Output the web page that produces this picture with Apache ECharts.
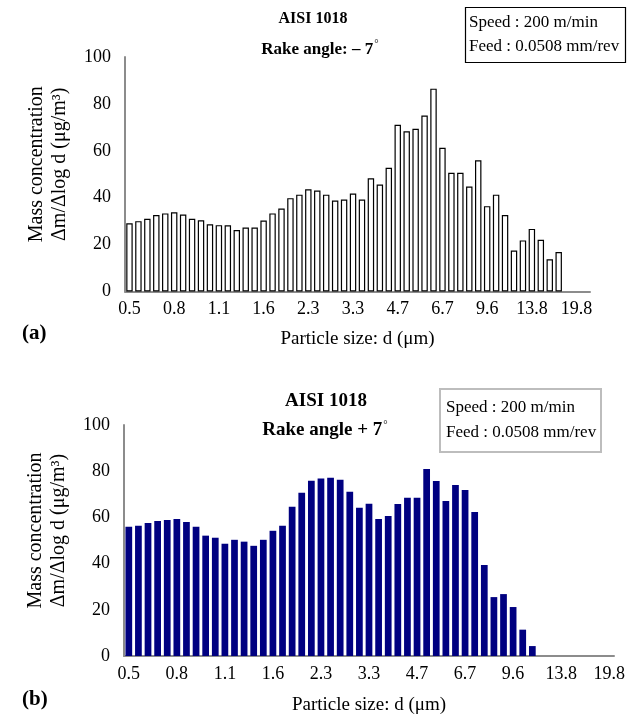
<!DOCTYPE html>
<html>
<head>
<meta charset="utf-8">
<script src="https://cdn.jsdelivr.net/npm/echarts@6/dist/echarts.min.js"></script>
<style>
  html, body { margin: 0; padding: 0; background: #fff; }
  #chart { width: 638px; height: 717px; }
</style>
</head>
<body>
<div id="chart"></div>
<script>
// APS channel midpoints, um
const sizes = [0.542, 0.583, 0.626, 0.673, 0.723, 0.777, 0.835, 0.898, 0.965, 1.037,
  1.114, 1.197, 1.286, 1.382, 1.486, 1.596, 1.715, 1.843, 1.981, 2.129,
  2.288, 2.458, 2.642, 2.839, 3.051, 3.278, 3.523, 3.786, 4.068, 4.371,
  4.698, 5.048, 5.425, 5.829, 6.264, 6.732, 7.234, 7.774, 8.354, 8.977,
  9.647, 10.37, 11.14, 11.97, 12.86, 13.82, 14.86, 15.96, 17.15, 18.43,
  19.81, 21.29];

// (a) rake angle -7
const negRake = [29.1, 30.0, 31.0, 32.6, 33.3, 33.8, 32.8, 31.0, 30.4, 28.7,
  28.3, 28.2, 26.2, 27.3, 27.3, 30.3, 33.3, 35.4, 39.8, 41.3,
  43.6, 43.1, 41.3, 38.8, 39.2, 41.8, 39.2, 48.3, 45.6, 52.8,
  71.1, 68.3, 69.4, 75.0, 86.5, 61.3, 50.6, 50.6, 44.8, 56.0,
  36.4, 41.3, 32.6, 17.5, 21.8, 26.7, 22.1, 13.7, 16.8, null,
  null, null];

// (b) rake angle +7
const posRake = [56.0, 56.4, 57.6, 58.4, 58.9, 59.3, 58.0, 56.0, 52.1, 51.2,
  48.6, 50.3, 49.5, 47.7, 50.3, 54.2, 56.4, 64.6, 70.7, 75.9,
  76.8, 77.2, 76.3, 71.1, 64.2, 65.9, 59.3, 60.6, 65.8, 68.5,
  68.5, 81.0, 75.8, 67.1, 74.0, 71.9, 62.3, 39.4, 25.5, 26.8,
  21.2, 11.4, 4.3, null, null, null, null, null, null, null,
  null];

const catsA = sizes.map(String);
const catsB = sizes.slice(0, posRake.length).map(String);

const FONT = 'Liberation Serif';
const yName = 'Mass concentration\nΔm/Δlog d (μg/m³)';
const xName = 'Particle size: d (μm)';

const chart = echarts.init(document.getElementById('chart'));

const xAxisBase = (idx, cats, gap) => ({
  type: 'category',
  gridIndex: idx,
  data: cats,
  axisTick: { show: false },
  axisLine: { lineStyle: { color: '#8c8c8c', width: 2 } },
  axisLabel: {
    interval: 4,
    margin: 9,
    color: '#000',
    fontFamily: FONT,
    fontSize: 18,
    formatter: (v) => Number(v).toFixed(1)
  },
  name: xName,
  nameLocation: 'middle',
  nameGap: gap,
  nameTextStyle: { color: '#000', fontFamily: FONT, fontSize: 19 }
});

const yAxisBase = (idx) => ({
  type: 'value',
  gridIndex: idx,
  min: 0,
  max: 100,
  interval: 20,
  splitLine: { show: false },
  axisLine: { show: true, lineStyle: { color: '#8c8c8c', width: 2 } },
  axisLabel: { margin: 14, color: '#000', fontFamily: FONT, fontSize: 18 },
  name: yName,
  nameLocation: 'middle',
  nameRotate: 90,
  nameGap: 54,
  // left padding nudges the rotated name a little upwards
  nameTextStyle: { color: '#000', fontFamily: FONT, fontSize: 20, lineHeight: 23, padding: [0, 0, 0, 20] }
});

const sup = { fontSize: 11, fontWeight: 'normal', verticalAlign: 'top', padding: [0, 0, 10, 1] };

chart.setOption({
  animation: false,
  textStyle: { fontFamily: FONT },
  title: [
    {
      text: 'AISI 1018', left: 308, top: 6, textAlign: 'center',
      textStyle: { fontFamily: FONT, fontSize: 16, fontWeight: 'bold', color: '#000' }
    },
    {
      text: 'Rake angle: – 7{s|°}', left: 315, top: 34, textAlign: 'center',
      textStyle: { fontFamily: FONT, fontSize: 17, fontWeight: 'bold', color: '#000', rich: { s: sup } }
    },
    {
      text: 'Speed : 200 m/min\nFeed : 0.0508 mm/rev', left: 465, top: 7,
      borderColor: '#000', borderWidth: 1.2, padding: [4, 7, 4, 4],
      textStyle: { fontFamily: FONT, fontSize: 17, fontWeight: 'normal', color: '#000', lineHeight: 24 }
    },
    {
      text: '(a)', left: 17, top: 318,
      textStyle: { fontFamily: FONT, fontSize: 21, fontWeight: 'bold', color: '#000' }
    },
    {
      text: 'AISI 1018', left: 321, top: 387, textAlign: 'center',
      textStyle: { fontFamily: FONT, fontSize: 19, fontWeight: 'bold', color: '#000' }
    },
    {
      text: 'Rake angle + 7{s|°}', left: 320, top: 415, textAlign: 'center',
      textStyle: { fontFamily: FONT, fontSize: 19, fontWeight: 'bold', color: '#000', rich: { s: sup } }
    },
    {
      text: 'Speed : 200 m/min\nFeed : 0.0508 mm/rev', left: 440, top: 389,
      borderColor: '#bdbdbd', borderWidth: 2, padding: [6, 5, 7, 6],
      textStyle: { fontFamily: FONT, fontSize: 17, fontWeight: 'normal', color: '#000', lineHeight: 25 }
    },
    {
      text: '(b)', left: 17, top: 684,
      textStyle: { fontFamily: FONT, fontSize: 21, fontWeight: 'bold', color: '#000' }
    }
  ],
  grid: [
    { left: 125, right: 48, top: 57, height: 234.5, outerBoundsMode: 'none' },
    { left: 124, right: 24, top: 425, height: 231, outerBoundsMode: 'none' }
  ],
  xAxis: [xAxisBase(0, catsA, 38), xAxisBase(1, catsB, 40)],
  yAxis: [yAxisBase(0), yAxisBase(1)],
  series: [
    {
      type: 'bar', xAxisIndex: 0, yAxisIndex: 0, data: negRake,
      barWidth: '72%',
      itemStyle: { color: '#fff', borderColor: '#000', borderWidth: 1.2 }
    },
    {
      type: 'bar', xAxisIndex: 1, yAxisIndex: 1, data: posRake,
      barWidth: '70%',
      itemStyle: { color: '#000080' }
    }
  ]
});
</script>
</body>
</html>
